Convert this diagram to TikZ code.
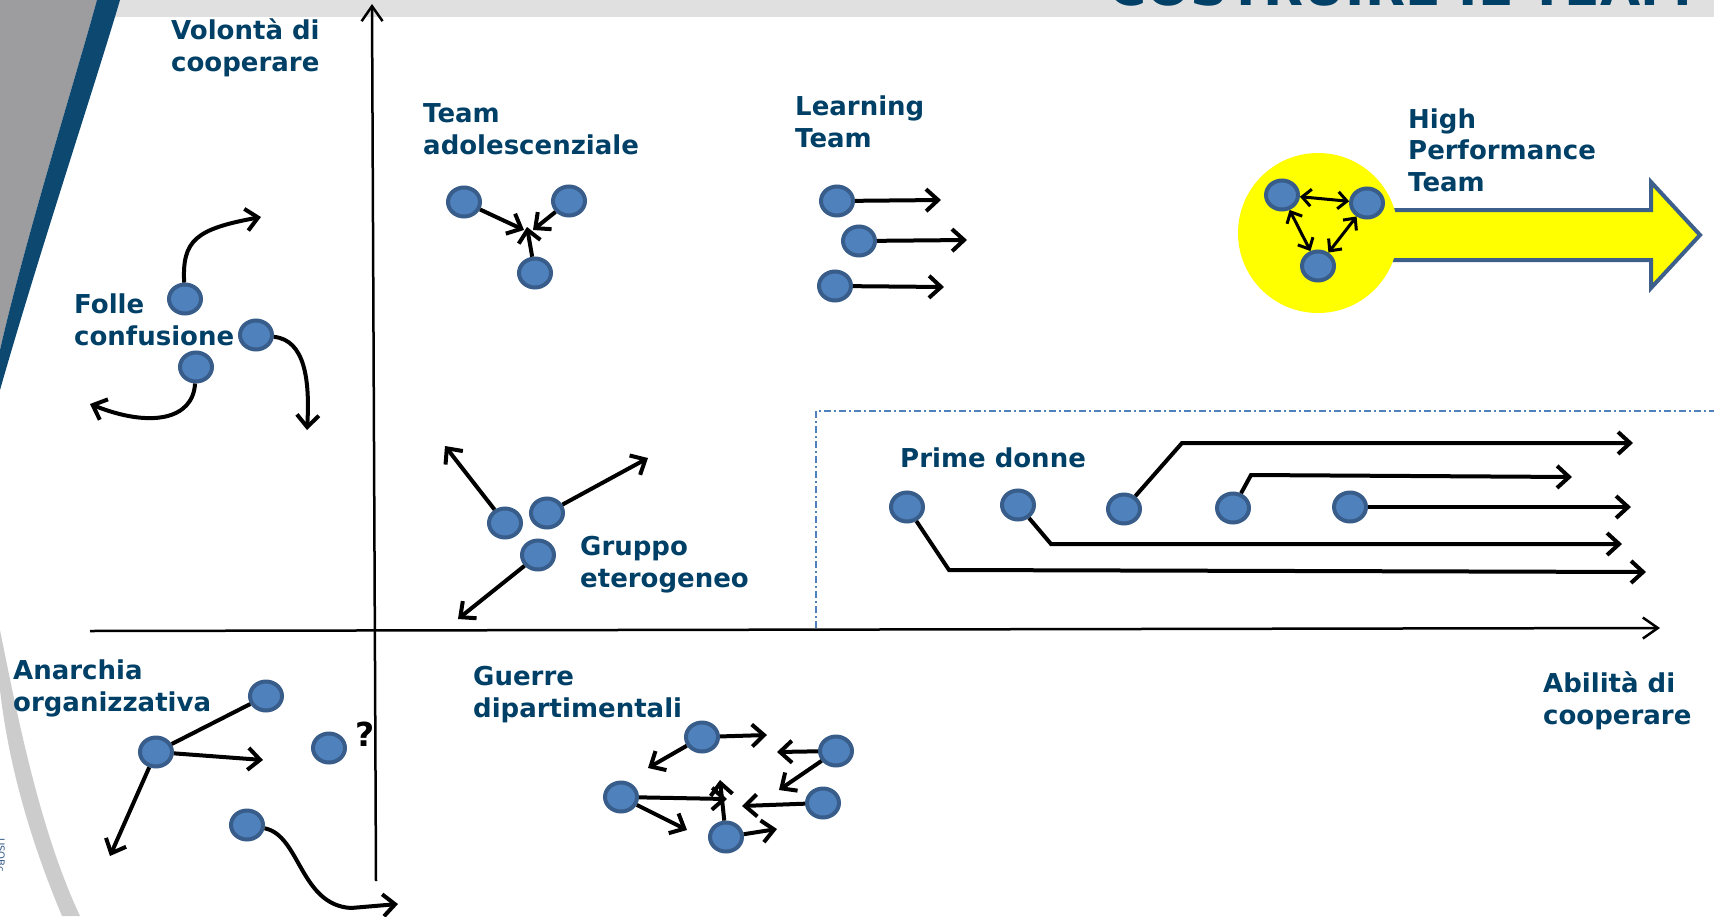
\documentclass[tikz,border=0pt]{standalone}
\usepackage{fontspec}
\setmainfont{DejaVu Sans}
\usetikzlibrary{arrows.meta, shapes.geometric}
\definecolor{labelblue}{RGB}{0,63,102}
\definecolor{memberfill}{RGB}{79,129,189}
\definecolor{memberedge}{RGB}{56,93,138}
\definecolor{arrowedge}{RGB}{60,95,140}
\definecolor{bandgray}{RGB}{224,224,224}
\definecolor{swooshgray}{RGB}{157,157,159}
\definecolor{swooshblue}{RGB}{12,72,112}
\definecolor{edgegray}{RGB}{204,204,204}
\definecolor{hptyellow}{RGB}{255,255,0}
\newcommand\quadfont{\fontsize{26}{31.5}\selectfont\bfseries}
\tikzset{>={Straight Barb[length=12pt,width=22pt]}}
\tikzset{
  member/.style={ellipse, draw=memberedge, fill=memberfill, line width=4pt,
    minimum width=32pt, minimum height=29pt, inner sep=0pt},
  quadlabel/.style={anchor=base west, inner sep=0pt, align=left, text=labelblue, font=\quadfont},
  move/.style={line width=4pt, ->},
  link/.style={line width=3pt, {Straight Barb[length=9pt,width=17pt]}-{Straight Barb[length=9pt,width=17pt]}},
  axisline/.style={line width=2.5pt, -{Straight Barb[length=15pt,width=21pt]}},
}

\begin{document}
\begin{tikzpicture}[x=1pt, y=-1pt]
      \useasboundingbox (0,0) rectangle (1714,916);
      \fill [bandgray] (0,0) rectangle (1714,17);
      \fill [swooshgray] (0,0) -- (97,0) .. controls (75,80) and (25,240) .. (0,350) -- cycle;
      \fill [swooshblue] (97,0) -- (120,0) .. controls (95,85) and (40,250) .. (0,390) -- (0,350) .. controls (25,240) and (75,80) .. (97,0) -- cycle;
      \fill [edgegray] (0,630) .. controls (20,730) and (42,835) .. (80,916) -- (62,916) .. controls (28,835) and (8,760) .. (0,690) -- cycle;
      \node (credit) at (1,855) [rotate=-90, inner sep=0pt, text=memberedge, font=\fontsize{10}{10}\selectfont] {USOBc};
      \node (title) at (1108,5) [anchor=base west, inner sep=0pt, text=labelblue, font=\fontsize{52}{52}\selectfont\bfseries] {COSTRUIRE IL TEAM};

      \coordinate (xstart) at (90,631);
      \coordinate (xend) at (1660,628);
      \coordinate (ystart) at (376,881);
      \coordinate (yend) at (372,4);
      \draw [axisline] (xstart) -- (xend);
      \draw [axisline] (ystart) -- (yend);

      \coordinate (boxa) at (816,628);
      \coordinate (boxb) at (816,411);
      \coordinate (boxc) at (1714,411);
      \draw [memberfill, line width=1.5pt, dash pattern=on 7pt off 3pt on 2pt off 3pt] (boxa) -- (boxb) -- (boxc);

      \node (ylabel) at (171,71) [quadlabel] {Volontà di\\cooperare};
      \node (xlabel) at (1543,724) [quadlabel] {Abilità di\\cooperare};
      \node (follelabel) at (74,345) [quadlabel] {Folle\\confusione};
      \node (adolabel) at (423,154) [quadlabel] {Team\\adolescenziale};
      \node (learnlabel) at (795,147) [quadlabel] {Learning\\Team};
      \node (hptlabel) at (1408,191) [quadlabel] {High\\Performance\\Team};
      \node (gruppolabel) at (580,587) [quadlabel] {Gruppo\\eterogeneo};
      \node (primelabel) at (900,467) [quadlabel] {Prime donne};
      \node (anarlabel) at (13,711) [quadlabel] {Anarchia\\organizzativa};
      \node (guerrelabel) at (473,717) [quadlabel] {Guerre\\dipartimentali};
      \node (query) at (355,746) [quadlabel, text=black, font=\fontsize{33}{33}\selectfont\bfseries] {?};

      \node (fa) at (185, 299) [member] {};
      \node (fb) at (256, 335) [member] {};
      \node (fc) at (196, 367) [member] {};
      \coordinate (fatip) at (261,217);
      \coordinate (fbtip) at (307,430);
      \coordinate (fctip) at (90,404);
      \draw [move] (fa) .. controls (182,240) and (196,229) .. (fatip);
      \draw [move] (fb) .. controls (305,340) and (310,380) .. (fbtip);
      \draw [move] (fc) .. controls (193,420) and (150,428) .. (fctip);

      \node (ta) at (464, 202) [member] {};
      \node (tb) at (569, 201) [member] {};
      \node (tc) at (535, 273) [member] {};
      \coordinate (tatip) at (524,230);
      \coordinate (tbtip) at (533,230);
      \coordinate (tctip) at (527,227);
      \draw [move] (ta) -- (tatip);
      \draw [move] (tb) -- (tbtip);
      \draw [move] (tc) -- (tctip);

      \node (la) at (837, 201) [member] {};
      \node (lb) at (859, 241) [member] {};
      \node (lc) at (835, 286) [member] {};
      \coordinate (latip) at (941,200);
      \coordinate (lbtip) at (967,240);
      \coordinate (lctip) at (944,287);
      \draw [move] (la) -- (latip);
      \draw [move] (lb) -- (lbtip);
      \draw [move] (lc) -- (lctip);

      \filldraw [fill=hptyellow, draw=arrowedge, line width=4pt] (1330,210) -- (1651,210) -- (1651,182) -- (1700,235) -- (1651,288) -- (1651,260) -- (1330,260) -- cycle;
      \fill [hptyellow] (1318,233) circle (80);
      \node (ha) at (1282, 195) [member] {};
      \node (hb) at (1367, 203) [member] {};
      \node (hc) at (1318, 266) [member] {};
      \draw [link] (ha) -- (hb);
      \draw [link] (ha) -- (hc);
      \draw [link] (hb) -- (hc);

      \node (ga) at (505, 523) [member] {};
      \node (gb) at (547, 513) [member] {};
      \node (gc) at (538, 555) [member] {};
      \coordinate (gatip) at (445,446);
      \coordinate (gbtip) at (648,458);
      \coordinate (gctip) at (458,619);
      \draw [move] (ga) -- (gatip);
      \draw [move] (gb) -- (gbtip);
      \draw [move] (gc) -- (gctip);

      \node (pa) at (907, 507) [member] {};
      \node (pb) at (1018, 505) [member] {};
      \node (pc) at (1124, 509) [member] {};
      \node (pd) at (1233, 508) [member] {};
      \node (pe) at (1350, 507) [member] {};
      \coordinate (pabend) at (949,570);
      \coordinate (pbbend) at (1051,544);
      \coordinate (pcbend) at (1182,443);
      \coordinate (pdbend) at (1251,475);
      \coordinate (patip) at (1646,572);
      \coordinate (pbtip) at (1622,544);
      \coordinate (pctip) at (1633,443);
      \coordinate (pdtip) at (1572,477);
      \coordinate (petip) at (1631,507);
      \draw [move] (pa) -- (pabend) -- (patip);
      \draw [move] (pb) -- (pbbend) -- (pbtip);
      \draw [move] (pc) -- (pcbend) -- (pctip);
      \draw [move] (pd) -- (pdbend) -- (pdtip);
      \draw [move] (pe) -- (petip);

      \node (aa) at (266, 696) [member] {};
      \node (ab) at (156, 752) [member] {};
      \node (ac) at (329, 748) [member] {};
      \node (ad) at (247, 825) [member] {};
      \coordinate (abtipr) at (263,760);
      \coordinate (abtipd) at (110,856);
      \coordinate (adtip) at (398,904);
      \draw [line width=4pt] (ab) -- (aa);
      \draw [move] (ab) -- (abtipr);
      \draw [move] (ab) -- (abtipd);
      \draw [move] (ad) .. controls (300,835) and (300,905) .. (351,908) -- (adtip);

      \node (wa) at (702, 737) [member] {};
      \node (wb) at (836, 751) [member] {};
      \node (wc) at (621, 797) [member] {};
      \node (wd) at (823, 803) [member] {};
      \node (we) at (726, 837) [member] {};
      \coordinate (watipr) at (767,735);
      \coordinate (watipl) at (648,768);
      \coordinate (wbtipl) at (777,752);
      \coordinate (wbtipd) at (779,790);
      \coordinate (wctipr) at (727,799);
      \coordinate (wctipd) at (687,830);
      \coordinate (wdtip) at (742,806);
      \coordinate (wetipu) at (720,780);
      \coordinate (wetipr) at (777,829);
      \draw [move] (wa) -- (watipr);
      \draw [move] (wa) -- (watipl);
      \draw [move] (wb) -- (wbtipl);
      \draw [move] (wb) -- (wbtipd);
      \draw [move] (wc) -- (wctipr);
      \draw [move] (wc) -- (wctipd);
      \draw [move] (wd) -- (wdtip);
      \draw [move] (we) -- (wetipu);
      \draw [move] (we) -- (wetipr);
    \end{tikzpicture}
\end{document}
